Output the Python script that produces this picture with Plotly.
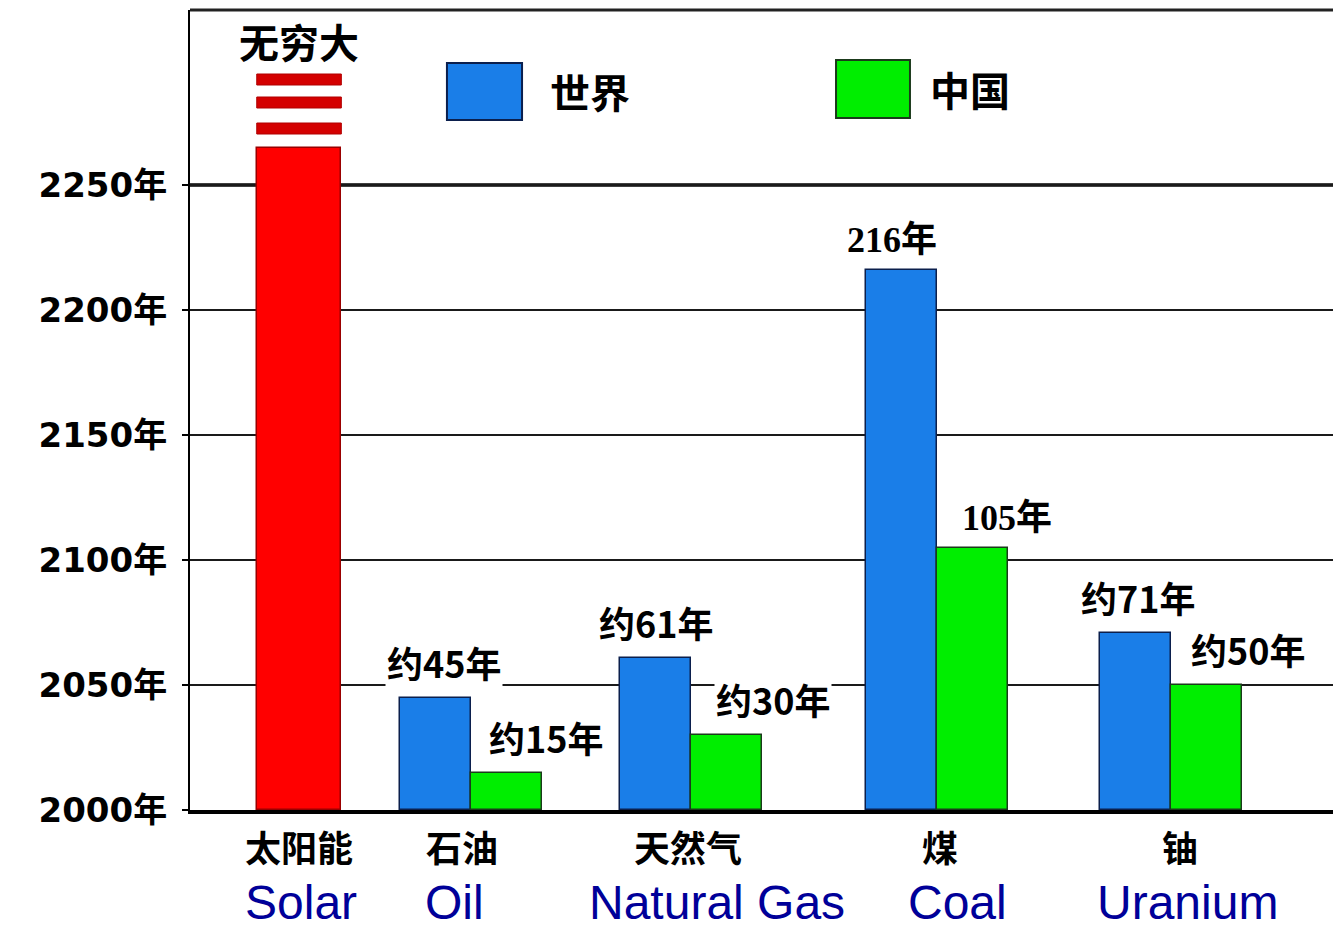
import math
import plotly.graph_objects as go

# ---- data -------------------------------------------------------------
categories_cn = ["太阳能", "石油", "天然气", "煤", "铀"]
categories_en = ["Solar", "Oil", "Natural Gas", "Coal", "Uranium"]
world_years = [math.inf, 45, 61, 216, 71]      # remaining years, world
china_years = [None, 15, 30, 105, 50]          # remaining years, China
world_labels = ["无穷大", "约45年", "约61年", "216年", "约71年"]
china_labels = [None, "约15年", "约30年", "105年", "约50年"]
year_ticks = [2000, 2050, 2100, 2150, 2200, 2250]
BASE_YEAR = 2000
legend_names = ["世界", "中国"]

# ---- layout / style ---------------------------------------------------
GROUP_X = [0.954, 2.458, 4.383, 6.535, 8.583]   # group centres on x axis
BAR_W = 0.62
SOLAR_W = 0.74
Y_TOP = 2320
SOLAR_CEIL = 2265                 # solid part of the "infinite" bar
SOLAR_STRIPES = [(2270.4, 2274.8), (2280.8, 2285.2), (2290.0, 2294.4)]

RED = "#ff0000"
BLUE = "#1a7ee8"
GREEN = "#00ee00"
NAVY = "#000099"
CJK = "Noto Sans CJK SC, sans-serif"

# label offsets in px (x shift relative to bar / group centre)
world_xshift = [0, 8, 0, -10, 2]
china_xshift = [0, 40, 47, 35, 42]
cn_name_xshift = [0, -9, -3, 3, 9]
en_name_xshift = [2, -16, 26, 21, 16]

fig = go.Figure()

# solar: infinite value, drawn up to the ceiling and finished with stripes
solar_top = min(world_years[0], SOLAR_CEIL - BASE_YEAR)
fig.add_trace(go.Bar(
    x=[GROUP_X[0]], y=[solar_top], base=BASE_YEAR, width=SOLAR_W,
    marker=dict(color=RED, line=dict(color="#9a0000", width=1.5)),
    showlegend=False, hoverinfo="skip"))
for y0, y1 in SOLAR_STRIPES:
    fig.add_shape(type="rect", xref="x", yref="y",
                  x0=GROUP_X[0] - SOLAR_W / 2, x1=GROUP_X[0] + SOLAR_W / 2,
                  y0=y0, y1=y1, fillcolor="#d40000",
                  line=dict(color="#b00000", width=1))

wx = [GROUP_X[i] - BAR_W / 2 for i in range(1, 5)]
cx = [GROUP_X[i] + BAR_W / 2 for i in range(1, 5)]
fig.add_trace(go.Bar(
    x=wx, y=world_years[1:], base=BASE_YEAR, width=BAR_W, name=legend_names[0],
    marker=dict(color=BLUE, line=dict(color="#0b1f4d", width=1.5)),
    showlegend=False))
fig.add_trace(go.Bar(
    x=cx, y=china_years[1:], base=BASE_YEAR, width=BAR_W, name=legend_names[1],
    marker=dict(color=GREEN, line=dict(color="#1b3a1b", width=1.5)),
    showlegend=False))

annotations = []

# "infinite" label over the solar bar
annotations.append(dict(
    x=GROUP_X[0], y=SOLAR_STRIPES[-1][1], xref="x", yref="y",
    text=world_labels[0], showarrow=False, yanchor="bottom", yshift=2,
    font=dict(family=CJK, size=40, color="black", weight="bold")))

def value_label(x, val, text, xshift):
    serif = not text.startswith("约")
    fam = "Liberation Serif, " + CJK if serif else CJK
    return dict(
        x=x, y=BASE_YEAR + val, xref="x", yref="y", text=text,
        showarrow=False, yanchor="bottom", xanchor="center",
        xshift=xshift, yshift=8, bgcolor="white", borderpad=1,
        font=dict(family=fam, size=36, color="black", weight="bold"))

for i in range(1, 5):
    annotations.append(value_label(wx[i - 1], world_years[i], world_labels[i], world_xshift[i]))
    annotations.append(value_label(cx[i - 1], china_years[i], china_labels[i], china_xshift[i]))

# category labels under the axis
for i, (cn, en) in enumerate(zip(categories_cn, categories_en)):
    annotations.append(dict(
        x=GROUP_X[i], y=-0.045, xref="x", yref="paper", text=cn,
        showarrow=False, yanchor="middle", xshift=cn_name_xshift[i], borderpad=0,
        font=dict(family=CJK, size=36, color="black", weight="bold")))
    annotations.append(dict(
        x=GROUP_X[i], y=-0.1495, xref="x", yref="paper", text=en,
        showarrow=False, yanchor="bottom", xshift=en_name_xshift[i], borderpad=0,
        font=dict(family="Liberation Sans, Arial, sans-serif", size=48, color=NAVY)))

# legend: large colour boxes with text
legend_boxes = [((0.2248, 0.2905), (0.8625, 0.9338), BLUE, "#0b1f4d", 0.313),
                ((0.5652, 0.6299), (0.8650, 0.9375), GREEN, "#1b3a1b", 0.6457)]
for (bx, by, fill, edge, tx), name in zip(legend_boxes, legend_names):
    fig.add_shape(type="rect", xref="paper", yref="paper",
                  x0=bx[0], x1=bx[1], y0=by[0], y1=by[1],
                  fillcolor=fill, line=dict(color=edge, width=2))
    annotations.append(dict(
        x=tx, y=(by[0] + by[1]) / 2, xref="paper", yref="paper", text=name,
        showarrow=False, xanchor="left", yanchor="middle",
        font=dict(family=CJK, size=40, color="black", weight="bold")))

# frame: heavy 2250 line, top border
fig.add_shape(type="line", xref="paper", yref="y", x0=0, x1=1, y0=2250, y1=2250,
              line=dict(color="black", width=3.5), layer="below")
fig.add_shape(type="line", xref="paper", yref="paper", x0=0, x1=1, y0=1, y1=1,
              line=dict(color="#222", width=3))

fig.update_layout(
    width=1333, height=930,
    margin=dict(l=190, r=0, t=10, b=120),
    paper_bgcolor="white", plot_bgcolor="white",
    bargap=0, barmode="overlay",
    annotations=annotations,
    xaxis=dict(range=[0, 10], showgrid=False, zeroline=False, showticklabels=False,
               ticks="", showline=True, linecolor="black", linewidth=4,
               fixedrange=True),
    yaxis=dict(range=[BASE_YEAR, Y_TOP], tickvals=year_ticks,
               ticktext=[f"{y}年" for y in year_ticks],
               showgrid=True, gridcolor="#1a1a1a", gridwidth=2,
               zeroline=False, showline=True, linecolor="black", linewidth=2,
               ticks="outside", ticklen=6, tickcolor="black", tickwidth=2,
               ticklabelstandoff=8,
               tickfont=dict(family="DejaVu Sans, " + CJK, size=34,
                             color="black", weight="bold"),
               fixedrange=True),
)

fig.write_html("out.html")
